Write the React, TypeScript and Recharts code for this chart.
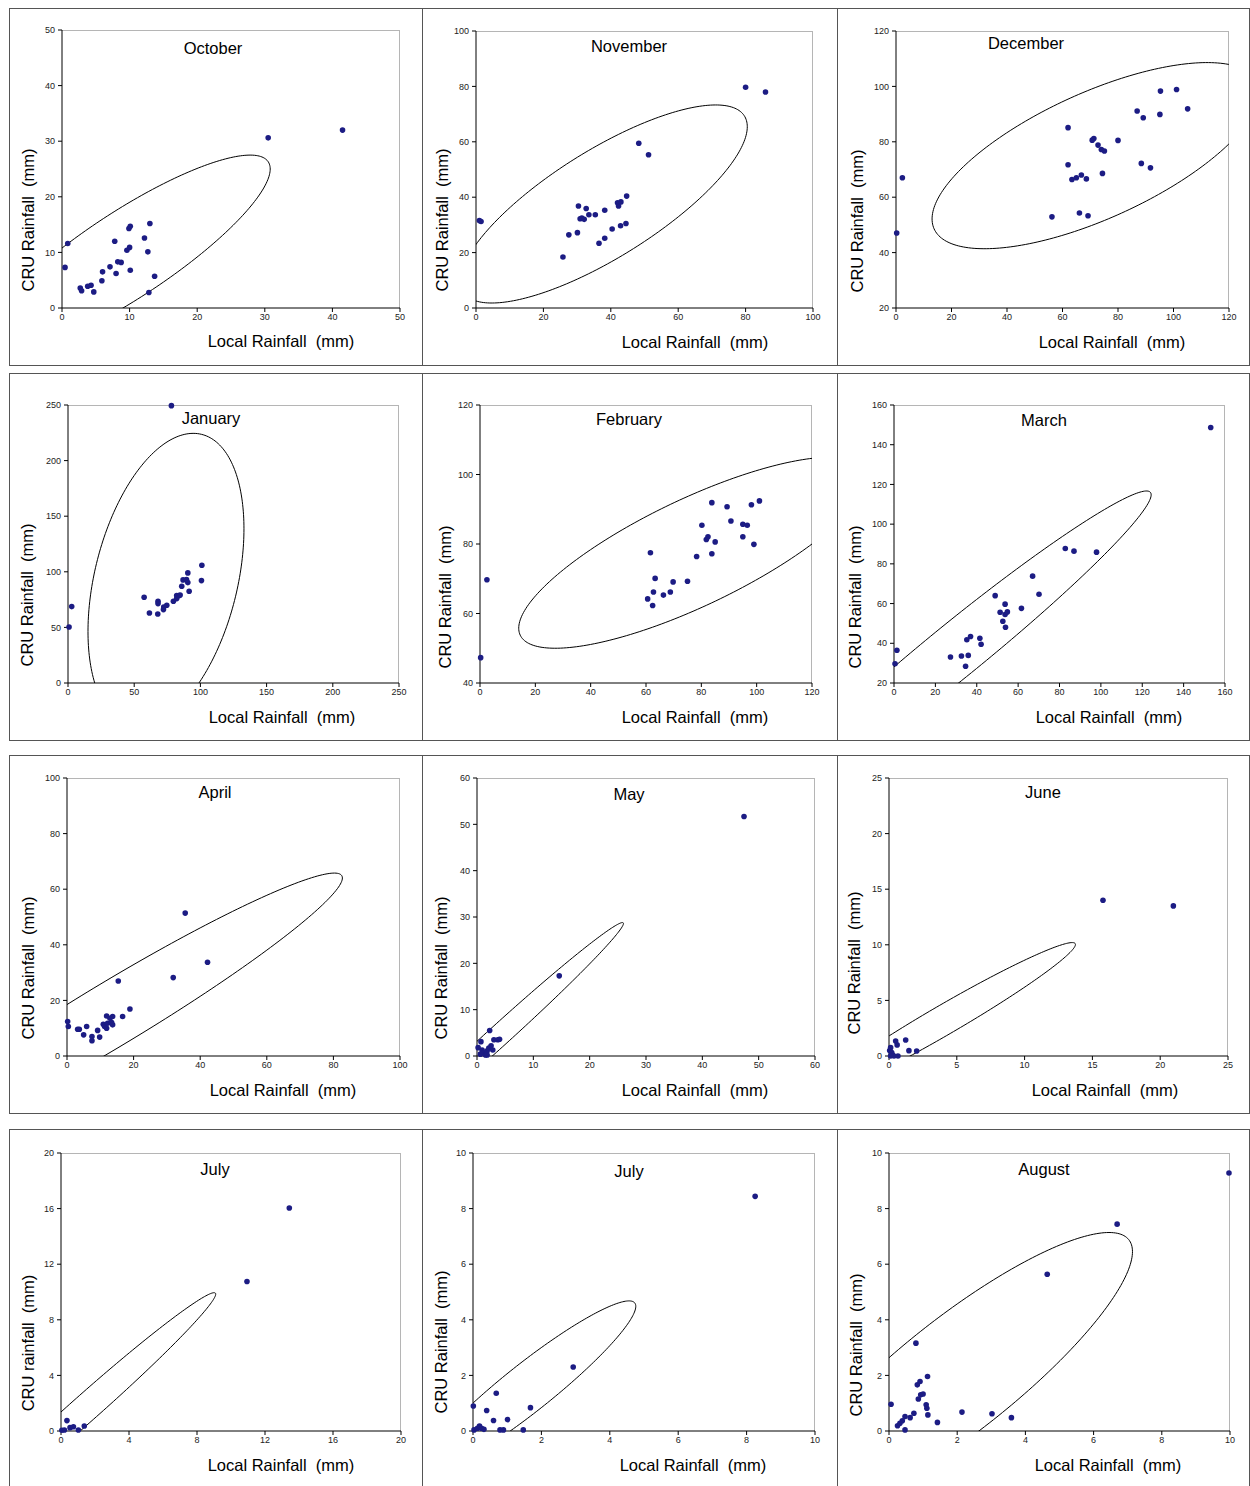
import { Scatter, ScatterChart, XAxis, YAxis } from 'recharts';

// tick labels
const t50 = [0, 10, 20, 30, 40, 50];
const t100 = [0, 20, 40, 60, 80, 100];
const t120 = [0, 20, 40, 60, 80, 100, 120];
const t20to120 = [20, 40, 60, 80, 100, 120];
const t250 = [0, 50, 100, 150, 200, 250];
const t40to120 = [40, 60, 80, 100, 120];
const t160 = [0, 20, 40, 60, 80, 100, 120, 140, 160];
const t20to160 = [20, 40, 60, 80, 100, 120, 140, 160];
const t60 = [0, 10, 20, 30, 40, 50, 60];
const t25 = [0, 5, 10, 15, 20, 25];
const t20 = [0, 4, 8, 12, 16, 20];
const t10 = [0, 2, 4, 6, 8, 10];

// [local, cru] pairs per month
const octPts = [
  [0.45, 7.3], [0.85, 11.6], [2.7, 3.6], [2.9, 3.1], [3.8, 3.9], [4.3, 4.1], [4.7, 2.9],
  [5.9, 4.9], [6.0, 6.5], [7.1, 7.4], [7.8, 12.0], [8.0, 6.2], [8.25, 8.3], [8.75, 8.2],
  [9.6, 10.4], [10.0, 10.9], [10.1, 6.8], [9.9, 14.3], [10.1, 14.7], [12.2, 12.6],
  [12.7, 10.1], [13.0, 15.2], [12.85, 2.8], [13.7, 5.7], [30.5, 30.6], [41.5, 32.0],
];
const novPts = [
  [1.0, 31.6], [1.5, 31.25], [25.8, 18.4], [27.55, 26.4], [30.1, 27.2], [30.4, 36.8],
  [30.9, 32.2], [31.4, 32.5], [32.1, 32.0], [32.7, 35.9], [33.5, 33.65], [35.4, 33.65],
  [36.5, 23.4], [38.2, 35.3], [38.2, 25.2], [40.4, 28.5], [42.0, 38.0], [42.3, 36.8],
  [43.0, 38.3], [42.9, 29.7], [44.5, 30.5], [44.7, 40.4], [48.3, 59.5], [51.2, 55.3],
  [80.0, 79.7], [85.9, 78.0],
];
const decPts = [
  [0.25, 47.1], [2.3, 67.0], [56.2, 52.9], [62.0, 85.1], [62.0, 71.7], [63.4, 66.4],
  [65.0, 67.0], [66.8, 68.0], [68.6, 66.6], [66.1, 54.3], [69.2, 53.3], [70.7, 80.6],
  [71.3, 81.2], [72.8, 78.8], [74.0, 77.2], [75.1, 76.7], [74.4, 68.6], [80.0, 80.5],
  [86.9, 91.1], [89.1, 88.7], [88.4, 72.2], [91.7, 70.6], [95.1, 89.9], [95.3, 98.3],
  [101.1, 98.9], [105.1, 91.9],
];
const janPts = [
  [78.1, 249.4], [0.8, 50.4], [2.8, 68.7], [57.5, 77.1], [61.5, 63.0], [68.0, 73.5],
  [68.0, 71.4], [67.8, 62.1], [72.1, 66.0], [72.3, 68.4], [74.6, 69.9], [79.6, 73.5],
  [82.1, 78.6], [83.9, 78.6], [82.1, 75.9], [84.7, 79.2], [85.9, 87.0], [86.9, 92.7],
  [89.5, 93.0], [90.5, 99.0], [90.5, 90.3], [91.5, 82.5], [101.1, 105.9], [100.8, 92.1],
];
const febPts = [
  [0.24, 47.3], [2.5, 69.7], [61.6, 77.5], [60.6, 64.2], [62.4, 62.3], [62.7, 66.2],
  [63.3, 70.1], [66.3, 65.3], [68.8, 66.2], [69.8, 69.1], [75.0, 69.3], [78.3, 76.4],
  [80.2, 85.4], [81.8, 81.3], [82.4, 82.1], [83.8, 77.2], [83.8, 91.9], [85.0, 80.6],
  [89.3, 90.7], [90.7, 86.6], [95.0, 85.7], [96.6, 85.4], [95.0, 82.1], [98.1, 91.3],
  [99.0, 79.9], [101.0, 92.4],
];
const marPts = [
  [0.5, 29.7], [1.4, 36.5], [27.3, 33.1], [32.6, 33.6], [35.9, 33.9], [34.6, 28.4],
  [35.2, 41.8], [37.0, 43.4], [41.5, 42.5], [42.1, 39.5], [48.9, 64.0], [51.3, 55.6],
  [52.6, 51.1], [53.7, 59.7], [53.7, 54.5], [53.9, 48.1], [54.8, 55.8], [61.6, 57.6],
  [67.0, 73.8], [70.1, 64.7], [82.8, 87.7], [87.0, 86.4], [97.9, 85.9], [153.1, 148.7],
];
const aprPts = [
  [0.2, 12.4], [0.4, 10.6], [3.2, 9.6], [3.7, 9.6], [5.0, 7.6], [5.9, 10.6], [7.5, 7.0],
  [7.5, 5.5], [9.2, 9.2], [9.8, 6.8], [10.9, 11.4], [11.3, 10.6], [11.9, 10.0], [12.2, 11.8],
  [11.9, 14.4], [12.9, 13.6], [13.4, 12.0], [13.7, 14.2], [13.7, 11.2], [16.7, 14.2],
  [18.9, 16.9], [15.4, 27.0], [31.9, 28.2], [35.5, 51.4], [42.2, 33.7],
];
const mayPts = [
  [0.2, 1.8], [0.7, 3.1], [0.9, 1.3], [1.2, 0.7], [1.5, 0.2], [1.8, 1.1], [2.1, 1.7],
  [2.25, 5.5], [2.5, 2.2], [2.8, 1.3], [3.0, 3.5], [3.7, 3.5], [4.0, 3.6], [0.6, 0.4],
  [1.8, 0.2], [14.6, 17.3], [47.4, 51.7],
];
const junPts = [
  [0.05, 0.5], [0.12, 0.75], [0.2, 0.3], [0.25, 0.1], [0.37, 0.0], [0.49, 1.35], [0.6, 1.0],
  [0.66, 0.0], [1.23, 1.44], [1.47, 0.48], [2.04, 0.45], [0.12, 0.0], [15.78, 14.0],
  [20.97, 13.5],
];
const julPts = [
  [0.05, 0.05], [0.2, 0.07], [0.35, 0.75], [0.53, 0.24], [0.73, 0.31], [1.02, 0.07],
  [1.37, 0.36], [10.94, 10.76], [13.43, 16.04],
];
const jul2Pts = [
  [0.01, 0.9], [0.03, 0.04], [0.13, 0.1], [0.19, 0.18], [0.25, 0.1], [0.32, 0.06],
  [0.4, 0.74], [0.6, 0.38], [0.68, 1.36], [0.79, 0.04], [0.89, 0.04], [1.01, 0.41],
  [1.47, 0.04], [1.68, 0.84], [2.93, 2.3], [8.25, 8.44],
];
const augPts = [
  [0.06, 0.96], [0.25, 0.19], [0.32, 0.28], [0.39, 0.37], [0.47, 0.04], [0.47, 0.52],
  [0.62, 0.48], [0.73, 0.64], [0.79, 3.16], [0.83, 1.66], [0.91, 1.78], [0.86, 1.15],
  [0.93, 1.3], [1.0, 1.33], [1.09, 0.94], [1.11, 0.82], [1.13, 1.96], [1.14, 0.58],
  [1.42, 0.31], [2.14, 0.68], [3.02, 0.62], [3.59, 0.48], [4.64, 5.64], [6.69, 7.44],
  [9.97, 9.28],
];

// confidence ellipses: centre x, centre y, half-width, half-height, correlation
const octEll = [9.5, 9.5, 21.3, 18, 0.861];
const novEll = [37.9, 37.55, 42.6, 35.75, 0.78];
const decEll = [72, 75, 59, 33.6, 0.68];
const janEll = [74, 92.5, 58.9, 132, 0.35];
const febEll = [77, 77.5, 63, 27.5, 0.79];
const marEll = [30.06, 36.5, 94.25, 80.2, 0.976];
const aprEll = [13.5, 15, 69.2, 50.8, 0.965];
const mayEll = [4, 4.5, 22, 24.3, 0.9918];
const junEll = [4, 3.2, 9.75, 7.0, 0.9755];
const julEll = [1.5, 1.7, 7.6, 8.25, 0.9875];
const jul2Ell = [1.6, 1.55, 3.16, 3.13, 0.9375];
const augEll = [2.0, 2.0, 5.14, 5.14, 0.866];

const ellipse = ([cx, cy, hx, hy, rho]: number[]) => {
  const s = Math.sqrt(1 - rho * rho);
  return Array.from({ length: 241 }, (_, i) => {
    const t = (i / 240) * 2 * Math.PI;
    return { x: cx + hx * Math.cos(t), y: cy + hy * (rho * Math.cos(t) + s * Math.sin(t)) };
  });
};

const FONT = '"Liberation Sans", Arial, sans-serif';

type PanelProps = {
  box: number[];
  plot: number[];
  title: string;
  titleAt: number[];
  xLabelAt: number[];
  yLabelAt: number[];
  yLabel?: string;
  xTicks: number[];
  yTicks: number[];
  pts: number[][];
  ell: number[];
};

const Panel = ({ box, plot, title, titleAt, xLabelAt, yLabelAt, yLabel = 'CRU Rainfall  (mm)', xTicks, yTicks, pts, ell }: PanelProps) => {
  const [L, T, W, H] = plot;
  const xDomain = [xTicks[0], xTicks[xTicks.length - 1]];
  const yDomain = [yTicks[0], yTicks[yTicks.length - 1]];
  const data = pts.map(([x, y]) => ({ x, y }));
  const text = { position: 'absolute' as const, fontFamily: FONT, fontSize: 16.5, color: '#000', whiteSpace: 'pre' as const, lineHeight: 1 };
  return (
    <>
      <div style={{ position: 'absolute', left: box[0], top: box[1], width: box[2], height: box[3], border: '1px solid #555', boxSizing: 'border-box' }} />
      <div style={{ position: 'absolute', left: L, top: T, width: W, height: H, borderTop: '1px solid #b5b5b5', borderRight: '1px solid #b5b5b5', boxSizing: 'border-box' }} />
      <div style={{ position: 'absolute', left: L - 40, top: T - 10 }}>
        <ScatterChart width={W + 50} height={H + 40} margin={{ top: 10, right: 10, left: 0, bottom: 0 }}>
          <XAxis
            type="number"
            dataKey="x"
            domain={xDomain}
            ticks={xTicks}
            interval={0}
            height={30}
            tickSize={4}
            tickMargin={2}
            tick={{ fontSize: 9, fill: '#222', fontFamily: FONT }}
            axisLine={{ stroke: '#000' }}
            tickLine={{ stroke: '#000' }}
          />
          <YAxis
            type="number"
            dataKey="y"
            domain={yDomain}
            ticks={yTicks}
            interval={0}
            width={40}
            tickSize={4}
            tickMargin={3}
            tick={{ fontSize: 9, fill: '#222', fontFamily: FONT }}
            axisLine={{ stroke: '#000' }}
            tickLine={{ stroke: '#000' }}
          />
          <XAxis xAxisId="e" type="number" dataKey="x" domain={xDomain} allowDataOverflow hide />
          <YAxis yAxisId="e" type="number" dataKey="y" domain={yDomain} allowDataOverflow hide />
          <Scatter
            xAxisId="e"
            yAxisId="e"
            data={ellipse(ell)}
            line={{ stroke: '#000', strokeWidth: 1 }}
            lineType="joint"
            shape={() => <g />}
            isAnimationActive={false}
          />
          <Scatter
            data={data}
            shape={(p: any) => <circle cx={p.cx} cy={p.cy} r={2.8} fill="#1c1c84" />}
            isAnimationActive={false}
          />
        </ScatterChart>
      </div>
      <div style={{ ...text, left: titleAt[0], top: titleAt[1], transform: 'translate(-50%, -50%)' }}>{title}</div>
      <div style={{ ...text, left: xLabelAt[0], top: xLabelAt[1], transform: 'translate(-50%, -50%)' }}>Local Rainfall  (mm)</div>
      <div style={{ ...text, left: yLabelAt[0], top: yLabelAt[1], transform: 'translate(-50%, -50%) rotate(-90deg)' }}>{yLabel}</div>
    </>
  );
};

const App = () => (
  <div style={{ position: 'absolute', left: 0, top: 0, width: 1250, height: 1486, background: '#fff' }}>
    <Panel box={[9, 8, 414, 358]} plot={[62, 30, 338, 278]} title="October" titleAt={[213, 48]} xLabelAt={[281, 341]} yLabelAt={[28, 220]} xTicks={t50} yTicks={t50} pts={octPts} ell={octEll} />
    <Panel box={[422, 8, 416, 358]} plot={[476, 31, 337, 277]} title="November" titleAt={[629, 46]} xLabelAt={[695, 342]} yLabelAt={[442, 220]} xTicks={t100} yTicks={t100} pts={novPts} ell={novEll} />
    <Panel box={[837, 8, 413, 358]} plot={[896, 31, 333, 277]} title="December" titleAt={[1026, 43]} xLabelAt={[1112, 342]} yLabelAt={[857, 221]} xTicks={t120} yTicks={t20to120} pts={decPts} ell={decEll} />

    <Panel box={[9, 373, 414, 368]} plot={[68, 405, 331, 278]} title="January" titleAt={[211, 418]} xLabelAt={[282, 717]} yLabelAt={[27, 595]} xTicks={t250} yTicks={t250} pts={janPts} ell={janEll} />
    <Panel box={[422, 373, 416, 368]} plot={[480, 405, 332, 278]} title="February" titleAt={[629, 419]} xLabelAt={[695, 717]} yLabelAt={[445, 597]} xTicks={t120} yTicks={t40to120} pts={febPts} ell={febEll} />
    <Panel box={[837, 373, 413, 368]} plot={[894, 405, 331, 278]} title="March" titleAt={[1044, 420]} xLabelAt={[1109, 717]} yLabelAt={[855, 597]} xTicks={t160} yTicks={t20to160} pts={marPts} ell={marEll} />

    <Panel box={[9, 755, 414, 359]} plot={[67, 778, 333, 278]} title="April" titleAt={[215, 792]} xLabelAt={[283, 1090]} yLabelAt={[28, 968]} xTicks={t100} yTicks={t100} pts={aprPts} ell={aprEll} />
    <Panel box={[422, 755, 416, 359]} plot={[477, 778, 338, 278]} title="May" titleAt={[629, 794]} xLabelAt={[695, 1090]} yLabelAt={[441, 968]} xTicks={t60} yTicks={t60} pts={mayPts} ell={mayEll} />
    <Panel box={[837, 755, 413, 359]} plot={[889, 778, 339, 278]} title="June" titleAt={[1043, 792]} xLabelAt={[1105, 1090]} yLabelAt={[854, 963]} xTicks={t25} yTicks={t25} pts={junPts} ell={junEll} />

    <Panel box={[9, 1129, 414, 358]} plot={[61, 1153, 340, 278]} title="July" titleAt={[215, 1169]} xLabelAt={[281, 1465]} yLabelAt={[28, 1343]} yLabel="CRU rainfall  (mm)" xTicks={t20} yTicks={t20} pts={julPts} ell={julEll} />
    <Panel box={[422, 1129, 416, 358]} plot={[473, 1153, 342, 278]} title="July" titleAt={[629, 1171]} xLabelAt={[693, 1465]} yLabelAt={[441, 1342]} xTicks={t10} yTicks={t10} pts={jul2Pts} ell={jul2Ell} />
    <Panel box={[837, 1129, 413, 358]} plot={[889, 1153, 341, 278]} title="August" titleAt={[1044, 1169]} xLabelAt={[1108, 1465]} yLabelAt={[856, 1345]} xTicks={t10} yTicks={t10} pts={augPts} ell={augEll} />
  </div>
);

export default App;
